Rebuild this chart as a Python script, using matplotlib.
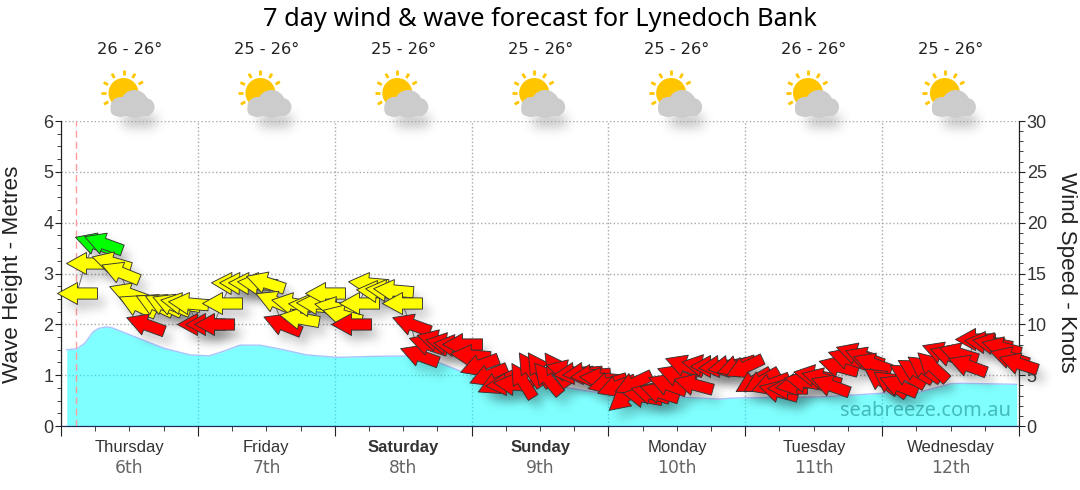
import numpy as np
from matplotlib import pyplot as plt
from matplotlib import patches
from matplotlib.markers import MarkerStyle
from matplotlib.path import Path
from matplotlib.transforms import Affine2D, offset_copy

plt.rcParams['font.family'] = ['Liberation Sans', 'DejaVu Sans']

days = ['Thursday', 'Friday', 'Saturday', 'Sunday', 'Monday', 'Tuesday', 'Wednesday']
dates = ['6th', '7th', '8th', '9th', '10th', '11th', '12th']
temps = ['26 - 26°', '25 - 26°', '25 - 26°', '25 - 26°', '25 - 26°', '26 - 26°', '25 - 26°']
bold_days = ['Saturday', 'Sunday']

# wave height
wave_hours = [1.0, 2.8, 4.2, 5.6, 6.6, 8.0, 9.0, 14.4, 18.0, 22.6, 26.0, 28.5, 31.4, 34.9,
              39.0, 43.0, 48.4, 55.0, 62.4, 66.0, 70.0, 78.0, 85.0, 93.3, 103.0, 112.0, 115.5,
              118.0, 133.0, 145.0, 150.0, 156.0, 157.7, 167.6]
wave_m = [1.50, 1.52, 1.63, 1.85, 1.92, 1.95, 1.93, 1.69, 1.53, 1.40, 1.38, 1.47, 1.59, 1.59,
          1.50, 1.40, 1.35, 1.37, 1.38, 1.26, 1.08, 0.93, 0.82, 0.67, 0.60, 0.55, 0.53,
          0.55, 0.57, 0.65, 0.65, 0.83, 0.84, 0.82]

# wind, one arrow every 1.5 hours
wind_hours = [2.8, 4.3, 5.8, 7.3, 8.8, 10.3, 11.8, 13.3, 14.8, 16.3,
              17.8, 19.3, 20.8, 22.3, 23.8, 25.3, 26.8, 28.3, 29.8, 31.3,
              32.8, 34.3, 35.8, 37.3, 38.8, 40.3, 41.8, 43.3, 44.8, 46.3,
              47.8, 49.3, 50.8, 52.3, 53.8, 55.3, 56.8, 58.3, 59.8, 61.3,
              62.8, 64.3, 65.8, 67.3, 68.8, 70.3, 71.8, 73.3, 74.8, 76.3,
              77.8, 79.3, 80.8, 82.3, 83.8, 85.3, 86.8, 88.3, 89.8, 91.3,
              92.8, 94.3, 95.8, 97.3, 98.8, 100.3, 101.8, 103.3, 104.8, 106.3,
              107.8, 109.3, 110.8, 112.3, 113.8, 115.3, 116.8, 118.3, 119.8, 121.3,
              122.8, 124.3, 125.8, 127.3, 128.8, 130.3, 131.8, 133.3, 134.8, 136.3,
              137.8, 139.3, 140.8, 142.3, 143.8, 145.3, 146.8, 148.3, 149.8, 151.3,
              152.8, 154.3, 155.8, 157.3, 158.8, 160.3, 161.8, 163.3, 164.8, 166.3, 167.8]
wind_knots = [13.1, 16.0, 18.0, 18.0, 16.1, 15.1, 13.1, 11.9, 10.0, 12.0,
              12.0, 12.0, 12.1, 12.1, 10.0, 10.0, 10.0, 12.1, 14.1, 14.1,
              14.1, 14.1, 14.2, 12.3, 10.0, 12.1, 10.6, 11.9, 12.1, 13.1,
              11.7, 10.9, 10.0, 12.1, 14.1, 13.3, 13.4, 13.4, 12.1, 10.0,
              7.0, 8.1, 8.5, 8.2, 8.0, 8.1, 7.0, 6.0, 5.0, 4.2,
              4.1, 4.1, 4.5, 5.6, 5.6, 4.7, 5.6, 5.5, 5.2, 5.2,
              5.0, 4.7, 4.2, 3.9, 2.9, 4.2, 3.0, 3.2, 3.3, 4.1,
              5.0, 6.0, 4.1, 6.0, 5.9, 5.9, 5.9, 5.9, 5.8, 4.4,
              4.4, 4.1, 3.4, 3.7, 4.1, 4.4, 5.0, 4.7, 4.0, 5.9,
              6.7, 7.2, 6.8, 6.2, 4.5, 4.2, 4.0, 5.0, 5.5, 5.7,
              5.9, 7.3, 7.0, 7.2, 6.0, 8.6, 8.3, 8.2, 7.8, 6.8, 6.2]
wind_dir = [90, 90, 108, 110, 106, 112, 110, 115, 110, 115,
            115, 112, 100, 95, 90, 90, 90, 90, 92, 92,
            92, 95, 108, 113, 112, 100, 100, 95, 92, 90,
            100, 105, 90, 90, 95, 95, 95, 95, 90, 110,
            110, 108, 105, 100, 97, 90, 95, 70, 68, 65,
            85, 95, 148, 146, 146, 140, 145, 105, 85, 85,
            85, 95, 75, 70, 50, 65, 100, 105, 107, 110,
            110, 110, 105, 100, 90, 85, 80, 72, 65, 60,
            60, 70, 105, 90, 80, 100, 100, 105, 110, 105,
            108, 108, 110, 110, 125, 125, 112, 120, 120, 125,
            133, 110, 108, 107, 110, 90, 95, 100, 105, 107, 108]

ARROW = Path([(-1, -0.28), (0, -0.28), (0, -0.55), (1, 0), (0, 0.55), (0, 0.28), (-1, 0.28), (-1, -0.28)], closed=True)


def blur_filter(sigma):
    # soft shadow: blur the alpha channel, used as agg_filter
    size = int(sigma * 3)
    kernel = np.exp(-0.5 * (np.arange(-size, size + 1) / sigma) ** 2)
    kernel = kernel / kernel.sum()

    def run(img, dpi):
        alpha = np.pad(img[:, :, 3], size)
        alpha = np.apply_along_axis(lambda r: np.convolve(r, kernel, mode='same'), 0, alpha)
        alpha = np.apply_along_axis(lambda r: np.convolve(r, kernel, mode='same'), 1, alpha)
        out = np.zeros(alpha.shape + (4,))
        out[:, :, 3] = alpha
        return out, -size, -size
    return run


def arrow_color(knots):
    if knots > 17:
        return '#00ff00'
    if knots > 10.5:
        return '#ffff00'
    return '#ff0000'


def draw_icon(ax, cx):
    # weather icon in pixel coordinates, cx is the sun centre
    for a in [-152, -121, -90, -59, -30, 150, 180]:
        r = np.radians(a)
        x0, y0 = cx + 17.5 * np.cos(r), 93 + 17.5 * np.sin(r)
        x1, y1 = cx + 22.5 * np.cos(r), 93 + 22.5 * np.sin(r)
        ax.plot([x0, x1], [y0, y1], color='#ffc600', lw=2, solid_capstyle='butt', zorder=2)
    ax.add_patch(patches.Circle((cx, 93), 15, color='#ffc600', lw=0, zorder=2))
    shade = patches.Rectangle((cx - 7, 106), 33, 10, color='black', alpha=0.3, lw=0, zorder=1)
    shade.set_transform(Affine2D().translate(6, 10) + ax.transData)
    shade.set_agg_filter(blur_filter(6))
    ax.add_patch(shade)
    shapes = [((cx + 11, 104), 14), ((cx - 3, 107), 10), ((cx + 22, 107), 9), ((cx - 7, 110), 6)]
    for c, rad in shapes:
        ax.add_patch(patches.Circle(c, rad, color='#cccccc', lw=0, zorder=3))
    ax.add_patch(patches.Rectangle((cx - 7, 105), 33, 11, color='#cccccc', lw=0, zorder=3))


fig = plt.figure(figsize=(10.8, 4.9), dpi=100)
ax = fig.add_axes([61 / 1080, 64 / 490, 958 / 1080, 305 / 490])
ax2 = ax.twinx()

ax.set_xlim(0, 168)
ax.set_ylim(0, 6)
ax2.set_ylim(0, 30)

# wave area, half transparent so the grid shows through
ax.fill_between(wave_hours, wave_m, 0, color='#00ffff', alpha=0.5, lw=0, zorder=2)
ax.plot(wave_hours, wave_m, color='#a8c4ff', lw=1, zorder=2.1)
ax.axvline(2.6, color='#ff9c9c', lw=1, dashes=(5, 3), zorder=2.2)
ax.text(0.992, 0.05, 'seabreeze.com.au', transform=ax.transAxes, ha='right', va='center',
        fontsize=14.4, color='#45bcbc', zorder=3, family='Noto Sans')

# wind arrows and their shadows
shadow_tf = offset_copy(ax2.transData, fig=fig, x=7, y=-9, units='dots')
ax2.plot(wind_hours, wind_knots, color='#666666', lw=0.7, zorder=2)
for i in range(len(wind_hours)):
    m = MarkerStyle(ARROW, transform=Affine2D().rotate_deg(270 - wind_dir[i]))
    sh, = ax2.plot([wind_hours[i]], [wind_knots[i]], marker=m, ms=28.8, mfc='black', mec='none',
                   alpha=0.2, transform=shadow_tf, zorder=1)
    sh.set_agg_filter(blur_filter(5))
    sh.set_clip_on(False)
for i in range(len(wind_hours)):
    m = MarkerStyle(ARROW, transform=Affine2D().rotate_deg(270 - wind_dir[i]))
    ax2.plot([wind_hours[i]], [wind_knots[i]], marker=m, ms=28.8, mfc=arrow_color(wind_knots[i]),
             mec='#333333', mew=0.65, zorder=3 + i * 0.01, clip_on=False)

# axes
ax.set_yticks(np.arange(0, 7, 1))
ax.set_yticks(np.arange(0, 6.01, 0.25), minor=True)
ax.set_xticks(np.arange(0, 169, 24))
ax.set_xticks(np.arange(0, 169, 6), minor=True)
ax.set_xticklabels([])
ax2.set_yticks(np.arange(0, 31, 5))
ax2.set_yticks(np.arange(0, 31, 1), minor=True)
ax.grid(True, which='major', color='#a8a8a8', ls=':', lw=1, zorder=1)
ax.set_axisbelow(True)
for a in (ax, ax2):
    a.spines['top'].set_visible(False)
    a.spines['left'].set_color('#222222')
    a.spines['right'].set_color('#222222')
    a.spines['bottom'].set_color('#1c2b5a')
ax.tick_params(axis='y', which='major', length=4.5, color='#222222', labelsize=13, labelcolor='#333333', pad=1)
ax.tick_params(axis='y', which='minor', length=3, color='#222222')
ax.tick_params(axis='x', which='major', length=7, color='#222222')
ax.tick_params(axis='x', which='minor', length=3.5, color='#222222')
ax2.tick_params(axis='y', which='major', length=4.5, color='#222222', labelsize=13, labelcolor='#333333', pad=1)
ax2.tick_params(axis='y', which='minor', length=3, color='#222222')

# texts and icons in pixel coordinates on a clear overlay
over = fig.add_axes([0, 0, 1, 1], facecolor='none', zorder=-1)
over.set_xlim(0, 1080)
over.set_ylim(490, 0)
over.axis('off')
ax.set_zorder(1)
ax2.set_zorder(2)
ax.patch.set_alpha(0)
ax2.patch.set_alpha(0)

over.text(540, 20, '7 day wind & wave forecast for Lynedoch Bank', ha='center', va='center',
          fontsize=18.3, color='black', family='Noto Sans')
over.text(13, 274, 'Wave Height - Metres', rotation=90, ha='center', va='center', fontsize=16.2, color='#222222')
over.text(1067, 272, 'Wind Speed - Knots', rotation=270, ha='center', va='center', fontsize=16.2, color='#222222')

for d in range(len(days)):
    cx = 129.5 + 136.9 * d
    over.text(cx, 50, temps[d], ha='center', va='center', fontsize=11.7, color='#222222', family='DejaVu Sans')
    draw_icon(over, cx - 6)
    over.text(cx, 447, days[d], ha='center', va='center', fontsize=12, color='#333333',
              fontweight='bold' if days[d] in bold_days else 'normal')
    over.text(cx, 468, dates[d], ha='center', va='center', fontsize=12.3, color='#666666', family='DejaVu Sans')

fig.savefig('out.png', dpi=100)
